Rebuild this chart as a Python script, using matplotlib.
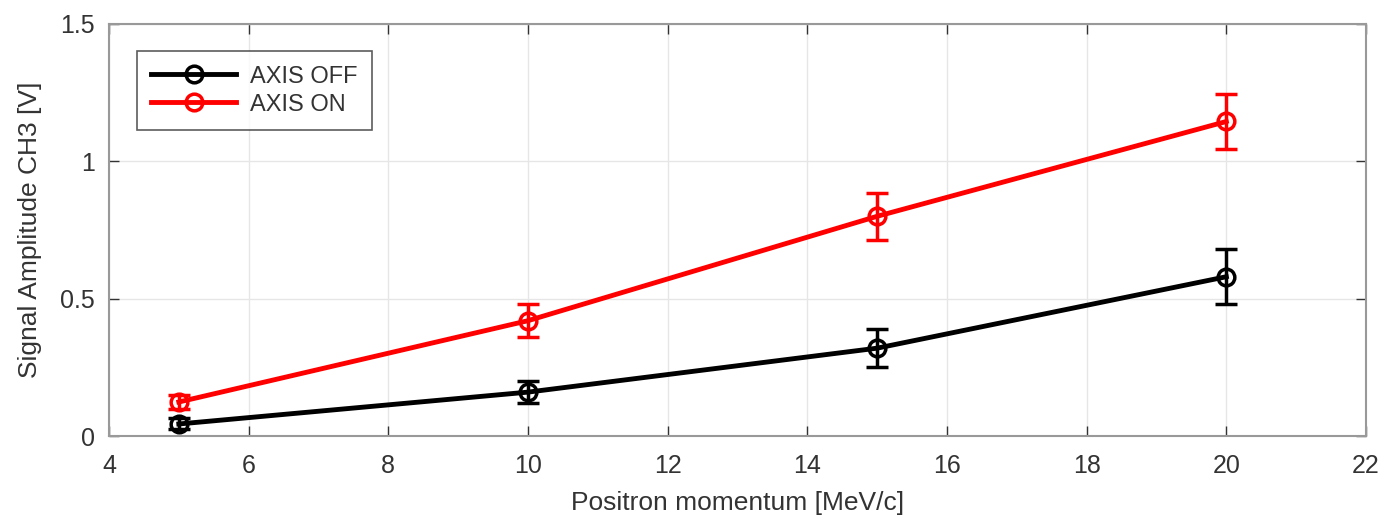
import matplotlib.pyplot as plt
from matplotlib.lines import Line2D

momentum = [5, 10, 15, 20]
amp_off = [0.044, 0.16, 0.32, 0.58]
err_off = [0.02, 0.04, 0.07, 0.10]
amp_on = [0.124, 0.42, 0.80, 1.145]
err_on = [0.025, 0.06, 0.085, 0.10]

plt.rcParams["font.family"] = ["Liberation Sans", "DejaVu Sans"]
grey = "#333333"

fig = plt.figure(figsize=(13.83, 5.21), dpi=100)
ax = fig.add_axes([0.0788, 0.163, 0.9089, 0.791])

style = dict(lw=3.5, marker="o", ms=12, mfc="none", mew=2.5, capsize=8,
             elinewidth=2.5, capthick=2.5)
ax.errorbar(momentum, amp_off, yerr=err_off, color="black", **style)
ax.errorbar(momentum, amp_on, yerr=err_on, color="red", **style)

ax.set_xlim(4, 22)
ax.set_ylim(0, 1.5)
ax.set_xticks(range(4, 23, 2))
ax.set_yticks([0, 0.5, 1, 1.5])
ax.set_yticklabels(["0", "0.5", "1", "1.5"])
ax.grid(True, color="#e6e6e6", lw=1)
ax.set_axisbelow(True)
ax.tick_params(direction="in", top=True, right=True, labelsize=18,
               colors=grey, length=7, width=1)
ax.tick_params(axis="x", pad=13)
ax.tick_params(axis="y", pad=10)
for s in ax.spines.values():
    s.set_color("#999999")
    s.set_linewidth(1.5)

ax.set_xlabel("Positron momentum [MeV/c]", fontsize=19, color=grey, labelpad=9)
ax.set_ylabel("Signal Amplitude CH3 [V]", fontsize=19, color=grey, labelpad=13)

handles = [
    Line2D([], [], color="black", lw=3.5, marker="o", ms=12, mfc="none", mew=2.5),
    Line2D([], [], color="red", lw=3.5, marker="o", ms=12, mfc="none", mew=2.5),
]
leg = ax.legend(handles, ["AXIS OFF", "AXIS ON"], loc="upper left",
                bbox_to_anchor=(0.013, 0.962), fontsize=17, fancybox=False,
                edgecolor="#333333", handlelength=3.6, borderpad=0.6,
                labelspacing=0.25, handletextpad=0.6)
leg.get_frame().set_linewidth(1.2)
for t in leg.get_texts():
    t.set_color(grey)

fig.savefig("out.png", dpi=100)
